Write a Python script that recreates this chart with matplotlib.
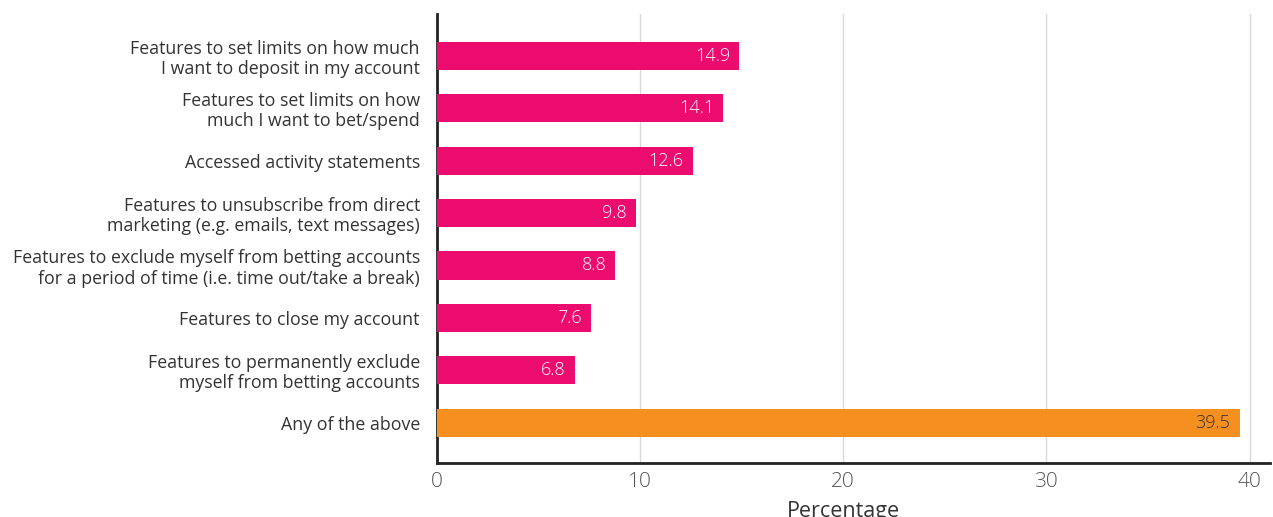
import matplotlib
matplotlib.use("Agg")
import matplotlib.pyplot as plt

categories = [
    "Features to set limits on how much\nI want to deposit in my account",
    "Features to set limits on how\nmuch I want to bet/spend",
    "Accessed activity statements",
    "Features to unsubscribe from direct\nmarketing (e.g. emails, text messages)",
    "Features to exclude myself from betting accounts\nfor a period of time (i.e. time out/take a break)",
    "Features to close my account",
    "Features to permanently exclude\nmyself from betting accounts",
    "Any of the above",
]
values = [14.9, 14.1, 12.6, 9.8, 8.8, 7.6, 6.8, 39.5]
x_ticks = [0, 10, 20, 30, 40]

PINK = "#EC0B6F"
ORANGE = "#F58F1F"
TEXT = "#333333"

plt.rcParams["font.family"] = ["Open Sans", "DejaVu Sans"]

fig = plt.figure(figsize=(12.73, 5.17), dpi=100)
ax = fig.add_axes([436.5 / 1273, 1 - 462.5 / 517, (1270 - 436.5) / 1273, (462.5 - 14) / 517])

colors = [ORANGE if c == "Any of the above" else PINK for c in categories]
ypos = list(range(len(categories)))
ax.barh(ypos, values, height=0.54, color=colors, zorder=3)

for y, v, c in zip(ypos, values, colors):
    ax.annotate(f"{v:.1f}", xy=(v, y), xytext=(-6.5, 0), textcoords="offset points",
                ha="right", va="center", fontsize=13, fontweight="light",
                color="white" if c == PINK else TEXT, zorder=4)

ax.set_xlim(0, 41.0)
ax.set_ylim(7.76, -0.8)
ax.set_yticks(ypos)
ax.set_yticklabels(categories, fontsize=12.8, color=TEXT, linespacing=1.15)
ax.set_xticks(x_ticks)
ax.set_xticklabels([str(t) for t in x_ticks], fontsize=15, fontweight="light", color="#555555")
ax.tick_params(axis="both", length=0)
ax.tick_params(axis="y", pad=12)
ax.tick_params(axis="x", pad=7)

ax.grid(axis="x", color="#d9d9d9", linewidth=1, zorder=0)
for s in ["top", "right"]:
    ax.spines[s].set_visible(False)
ax.spines["left"].set_color("#222222")
ax.spines["left"].set_linewidth(2)
ax.spines["bottom"].set_color("#222222")
ax.spines["bottom"].set_linewidth(2)

ax.set_xlabel("Percentage", fontsize=15.5, color=TEXT, labelpad=7)
ax.xaxis.set_label_coords(20 / 41.0, -0.085, transform=ax.transAxes)
ax.xaxis.label.set_va("top")

fig.savefig("out.png", dpi=100)
